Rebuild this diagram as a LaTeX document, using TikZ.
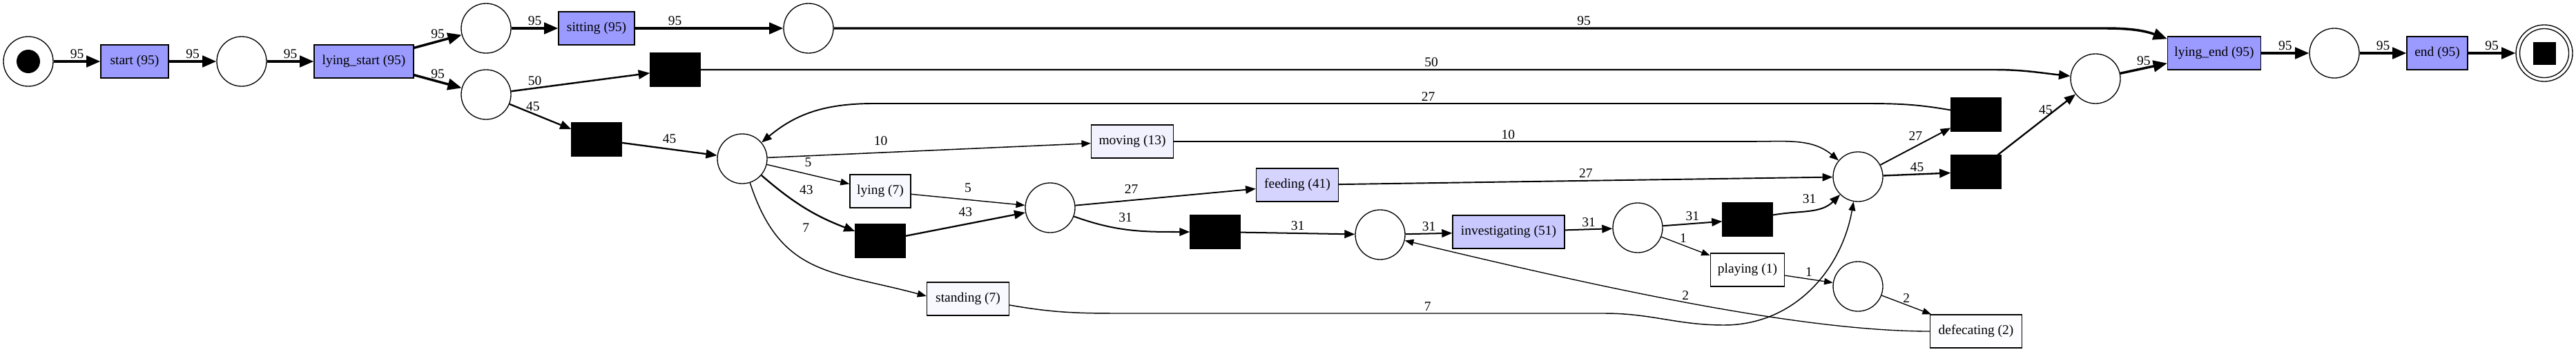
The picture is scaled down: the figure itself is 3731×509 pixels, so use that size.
\documentclass[tikz,border=0pt]{standalone}
\usepackage{fontspec}
\setmainfont{Liberation Serif}
\usetikzlibrary{positioning,arrows.meta}

\definecolor{freq95}{HTML}{9B9BFF}
\definecolor{freq51}{HTML}{C9C9FF}
\definecolor{freq41}{HTML}{D4D4FF}
\definecolor{freq13}{HTML}{F2F2FF}
\definecolor{freq7}{HTML}{F8F8FF}
\definecolor{freq2}{HTML}{FDFDFF}

\tikzset{
  every node/.style={font=\fontsize{19.5}{23}\selectfont},
  place/.style={circle, draw, line width=1.33pt, minimum size=72pt, inner sep=0pt},
  trans/.style={rectangle, draw, line width=1.33pt, minimum height=48pt, inner sep=0pt, minimum width=#1},
  silent/.style={rectangle, draw, fill=black, minimum width=73pt, minimum height=49pt, inner sep=0pt},
  lbl/.style={above=#1, inner sep=3pt},
  lbl/.default=0pt,
  arcw/.style={line width=#1, -{Triangle[length=8pt 3.5, width=5pt 3.3]}},
}

\begin{document}
\begin{tikzpicture}[x=1pt, y=1pt, on grid]
  \useasboundingbox (0,0) rectangle (3731,-509);

  % Start of the net
  \node[place] (src) at (41,-89) {};
  \fill (src.center) circle[radius=17];
  \node[trans=98pt, fill=freq95, right=154pt of src] (t_start) {start (95)};
  \node[place, right=155pt of t_start] (p1) {};
  \node[trans=144pt, fill=freq95, right=177pt of p1] (t_lystart) {lying\_start (95)};
  \node[place, above right=48pt and 177pt of t_lystart] (p2) {};
  \node[place, below right=48pt and 177pt of t_lystart] (p3) {};
  \node[trans=110pt, fill=freq95, right=160pt of p2] (t_sit) {sitting (95)};
  \node[silent, below right=65pt and 160pt of p3] (tau2) {};
  \node[silent, above right=36pt and 274pt of p3] (tau1) {};
  \node[place, right=307pt of t_sit] (p4) {};

  % Middle part
  \node[place, below right=28pt and 211pt of tau2] (hub) {};
  \node[trans=119pt, fill=freq13, above right=25pt and 565pt of hub] (t_mov) {moving (13)};
  \node[trans=88pt, fill=freq7, below right=47pt and 200pt of hub] (t_lying) {lying (7)};
  \node[silent, below=72pt of t_lying] (tau3) {};
  \node[place, below right=24pt and 246pt of t_lying] (p6) {};
  \node[trans=119pt, fill=freq7, below right=203pt and 327pt of hub] (t_stand) {standing (7)};
  \node[trans=119pt, fill=freq41, above right=33pt and 358pt of p6] (t_feed) {feeding (41)};
  \node[silent, below right=35pt and 239pt of p6] (tau4) {};
  \node[place, below right=4pt and 239pt of tau4] (p7) {};
  \node[trans=162pt, fill=freq51, above right=4pt and 186pt of p7] (t_inv) {investigating (51)};
  \node[place, above right=6pt and 187pt of t_inv] (p8) {};
  \node[silent, above right=12pt and 159pt of p8] (tau5) {};
  \node[trans=107pt, fill=white, below=73pt of tau5] (t_play) {playing (1)};
  \node[place, above right=62pt and 160pt of tau5] (p9) {};
  \node[place, below=159pt of p9] (p10) {};
  \node[trans=133pt, fill=freq2, below right=65pt and 171pt of p10] (t_def) {defecating (2)};

  % End of the net
  \node[silent, above right=90pt and 171pt of p9] (tau6) {};
  \node[silent, below=83pt of tau6] (tau7) {};
  \node[place, above right=135pt and 173pt of tau7] (p11) {};
  \node[trans=135pt, fill=freq95, above right=37pt and 172pt of p11] (t_lyend) {lying\_end (95)};
  \node[place, right=174pt of t_lyend] (p12) {};
  \node[trans=88pt, fill=freq95, right=149pt of p12] (t_end) {end (95)};
  \node[place, minimum size=82pt, right=155pt of t_end] (sink) {};
  \draw[line width=1.33pt] (sink.center) circle[radius=35.5];
  \fill ([shift={(-16.5,-16.5)}]sink.center) rectangle ++(33,33);

  % Arcs
  \draw[arcw=3.47] (src) -- node[lbl]{95} (t_start);
  \draw[arcw=3.47] (t_start) -- node[lbl]{95} (p1);
  \draw[arcw=3.47] (p1) -- node[lbl]{95} (t_lystart);
  \draw[arcw=3.47] (t_lystart) -- node[lbl]{95} (p2);
  \draw[arcw=3.47] (t_lystart) -- node[lbl]{95} (p3);
  \draw[arcw=3.47] (p2) -- node[lbl]{95} (t_sit);
  \draw[arcw=3.47] (t_sit) -- node[lbl, pos=.27]{95} (p4);
  \draw[arcw=3.47] (p4) -- node[lbl, pos=.59]{95} (3049,-41) to[out=0, in=160] ([yshift=-4pt]t_lyend.north west);
  \draw[arcw=2.45] (p3) -- node[lbl, pos=.17]{50} (tau1);
  \draw[arcw=2.45] (tau1) -- node[lbl, pos=.565]{50} (2888,-101) to[out=0, in=174] (p11);
  \draw[arcw=2.33] (p3) -- node[lbl, pos=.38]{45} (tau2);
  \draw[arcw=2.33] (tau2) -- node[lbl=4pt]{45} (hub);

  \draw[arcw=1.54] (hub) -- node[lbl=7pt, pos=.35]{10} (t_mov);
  \draw[arcw=1.54] (t_mov) -- node[lbl, pos=.578]{10} (2538,-205) to[out=0, in=140] (p9);
  \draw[arcw=1.42] (hub) -- node[lbl=7pt, pos=.5]{5} (t_lying);
  \draw[arcw=2.29] (hub) to[bend right=10] node[lbl, pos=.4, above right, yshift=8pt]{43} (tau3);
  \draw[arcw=1.47] (hub) to[out=-72, in=165, looseness=1.2] node[lbl, pos=.2, right, xshift=42pt]{7} ([yshift=4pt]t_stand.west);
  \draw[arcw=1.42] (t_lying) -- node[lbl=7pt]{5} (p6);
  \draw[arcw=2.29] (tau3) -- node[lbl=7pt]{43} (p6);
  \draw[arcw=1.92] (p6) -- node[lbl=6pt, pos=.31]{27} (t_feed);
  \draw[arcw=2.01] (p6) to[out=-20, in=180] node[lbl=7pt, pos=.45]{31} (tau4);
  \draw[arcw=1.92] (t_feed) -- node[lbl]{27} (p9);
  \draw[arcw=2.01] (tau4) -- node[lbl]{31} (p7);
  \draw[arcw=2.01] (p7) -- node[lbl]{31} (t_inv);
  \draw[arcw=2.01] (t_inv) -- node[lbl]{31} (p8);
  \draw[arcw=2.01] (p8) -- node[lbl]{31} (tau5);
  \draw[arcw=1.33] (p8) -- node[lbl, pos=.45]{1} (t_play);
  \draw[arcw=2.01] (tau5) to[out=10, in=-135] node[lbl=6pt, pos=.5]{31} (p9);
  \draw[arcw=1.33] (t_play) -- node[lbl]{1} (p10);
  \draw[arcw=1.36] (p10) -- node[lbl]{2} (t_def);
  \draw[arcw=1.36] (t_def) .. controls (2600,-480) and (2300,-412) .. node[lbl]{2} (p7);
  \draw[arcw=1.47] ([yshift=-9pt]t_stand.east) to[out=-10, in=180] (1620,-454) -- node[lbl, pos=.636]{7} (2324,-454) to[out=0, in=180] (2497,-471) to[out=0, in=-100] (p9);

  \draw[arcw=1.92] (p9) -- node[lbl=5pt]{27} (tau6);
  \draw[arcw=2.33] (p9) -- node[lbl]{45} (tau7);
  \draw[arcw=1.92] (tau6) to[out=170, in=0] (2699,-150) -- node[lbl, pos=.44]{27} (1266,-150) to[out=180, in=40] (hub);
  \draw[arcw=2.33] (tau7) -- node[lbl, pos=.74, left]{45} (p11);
  \draw[arcw=3.47] (p11) -- node[lbl]{95} (t_lyend);
  \draw[arcw=3.47] (t_lyend) -- node[lbl]{95} (p12);
  \draw[arcw=3.47] (p12) -- node[lbl]{95} (t_end);
  \draw[arcw=3.47] (t_end) -- node[lbl]{95} (sink);
\end{tikzpicture}
\end{document}
